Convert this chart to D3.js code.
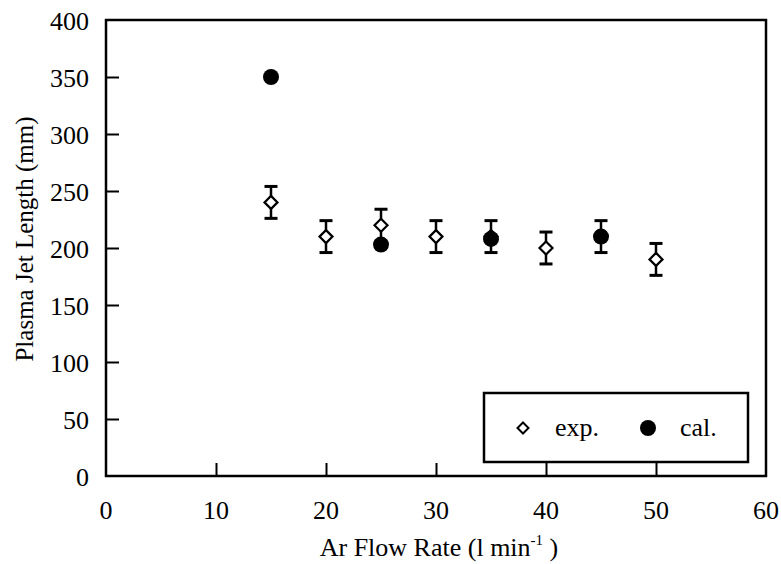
<!DOCTYPE html>
<html>
<head>
<meta charset="utf-8">
<script src="https://cdn.jsdelivr.net/npm/d3@7/dist/d3.min.js"></script>
<style>
  body { margin: 0; background: #fff; }
  text { font-family: "Liberation Serif", "Times New Roman", serif; fill: #000; }
</style>
</head>
<body>
<script>
// experimental points (diamonds with error bars)
var expFlow  = [15, 20, 25, 30, 35, 40, 45, 50]
var expLen   = [240, 210, 220, 210, 210, 200, 210, 190]
var expErr   = [14, 14, 14, 14, 14, 14, 14, 14]

// calculated points (filled circles)
var calFlow  = [15, 25, 35, 45]
var calLen   = [350, 203, 208, 210]

var xTicks = [0, 10, 20, 30, 40, 50, 60]
var yTicks = [0, 50, 100, 150, 200, 250, 300, 350, 400]

var W = 781, H = 564
var plotL = 106, plotR = 766, plotT = 20, plotB = 476

var svg = d3.select("body").append("svg")
    .attr("width", W)
    .attr("height", H)

var x = d3.scaleLinear().domain([0, 60]).range([plotL, plotR])
var y = d3.scaleLinear().domain([0, 400]).range([plotB, plotT])

// frame
svg.append("rect")
    .attr("x", plotL).attr("y", plotT)
    .attr("width", plotR - plotL).attr("height", plotB - plotT)
    .style("fill", "none")
    .style("stroke", "black")
    .style("stroke-width", 2.5)

// inward ticks, no domain line (the frame does that)
var yAxis = svg.append("g")
    .attr("transform", "translate(" + plotL + ",0)")
    .call(d3.axisRight(y).tickValues(yTicks.slice(1, -1)).tickSize(13).tickFormat(""))
yAxis.select(".domain").remove()
yAxis.selectAll("line").style("stroke-width", 2)

var xAxis = svg.append("g")
    .attr("transform", "translate(0," + plotB + ")")
    .call(d3.axisTop(x).tickValues(xTicks.slice(1, -1)).tickSize(13).tickFormat(""))
xAxis.select(".domain").remove()
xAxis.selectAll("line").style("stroke-width", 2)

// tick labels
svg.selectAll(".ylab").data(yTicks).enter().append("text")
    .attr("class", "ylab")
    .attr("x", plotL - 17)
    .attr("y", function(d) { return y(d) + 9.5 })
    .attr("text-anchor", "end")
    .style("font-size", "26px")
    .text(function(d) { return d })

svg.selectAll(".xlab").data(xTicks).enter().append("text")
    .attr("class", "xlab")
    .attr("x", function(d) { return x(d) })
    .attr("y", 519)
    .attr("text-anchor", "middle")
    .style("font-size", "26px")
    .text(function(d) { return d })

// axis titles
var xt = svg.append("text")
    .attr("x", (plotL + plotR) / 2 + 3)
    .attr("y", 556)
    .attr("text-anchor", "middle")
    .style("font-size", "26px")
xt.append("tspan").text("Ar Flow Rate (l min")
xt.append("tspan").attr("dy", -11).style("font-size", "15px").text("-1")
xt.append("tspan").attr("dy", 11).text(" )")

svg.append("text")
    .attr("transform", "translate(33,239) rotate(-90)")
    .attr("text-anchor", "middle")
    .style("font-size", "25px")
    .text("Plasma Jet Length (mm)")

// error bars
var eb = svg.selectAll(".err").data(expFlow).enter().append("g").attr("class", "err")
eb.append("line")
    .attr("x1", function(d) { return x(d) }).attr("x2", function(d) { return x(d) })
    .attr("y1", function(d, i) { return y(expLen[i] + expErr[i]) })
    .attr("y2", function(d, i) { return y(expLen[i] - expErr[i]) })
    .style("stroke", "black").style("stroke-width", 2.5)
eb.append("line")
    .attr("x1", function(d) { return x(d) - 6.5 }).attr("x2", function(d) { return x(d) + 6.5 })
    .attr("y1", function(d, i) { return y(expLen[i] + expErr[i]) })
    .attr("y2", function(d, i) { return y(expLen[i] + expErr[i]) })
    .style("stroke", "black").style("stroke-width", 3)
eb.append("line")
    .attr("x1", function(d) { return x(d) - 6.5 }).attr("x2", function(d) { return x(d) + 6.5 })
    .attr("y1", function(d, i) { return y(expLen[i] - expErr[i]) })
    .attr("y2", function(d, i) { return y(expLen[i] - expErr[i]) })
    .style("stroke", "black").style("stroke-width", 3)

// diamonds
function diamond(cx, cy, w, h) {
    return "M" + cx + "," + (cy - h) + "L" + (cx + w) + "," + cy +
        "L" + cx + "," + (cy + h) + "L" + (cx - w) + "," + cy + "Z"
}
svg.selectAll(".exp").data(expFlow).enter().append("path")
    .attr("class", "exp")
    .attr("d", function(d, i) { return diamond(x(d), y(expLen[i]), 6.5, 6.5) })
    .style("fill", "white")
    .style("stroke", "black")
    .style("stroke-width", 2.2)

// circles
svg.selectAll(".cal").data(calFlow).enter().append("circle")
    .attr("class", "cal")
    .attr("cx", function(d) { return x(d) })
    .attr("cy", function(d, i) { return y(calLen[i]) })
    .attr("r", 8)
    .style("fill", "black")

// legend
svg.append("rect")
    .attr("x", 484).attr("y", 393)
    .attr("width", 264).attr("height", 69)
    .style("fill", "white")
    .style("stroke", "black")
    .style("stroke-width", 2.5)
svg.append("path")
    .attr("d", diamond(523, 428, 5.5, 5.5))
    .style("fill", "white").style("stroke", "black").style("stroke-width", 2)
svg.append("text")
    .attr("x", 555).attr("y", 436)
    .style("font-size", "26px")
    .text("exp.")
svg.append("circle")
    .attr("cx", 648).attr("cy", 428).attr("r", 8)
    .style("fill", "black")
svg.append("text")
    .attr("x", 680).attr("y", 436)
    .style("font-size", "26px")
    .text("cal.")
</script>
</body>
</html>
